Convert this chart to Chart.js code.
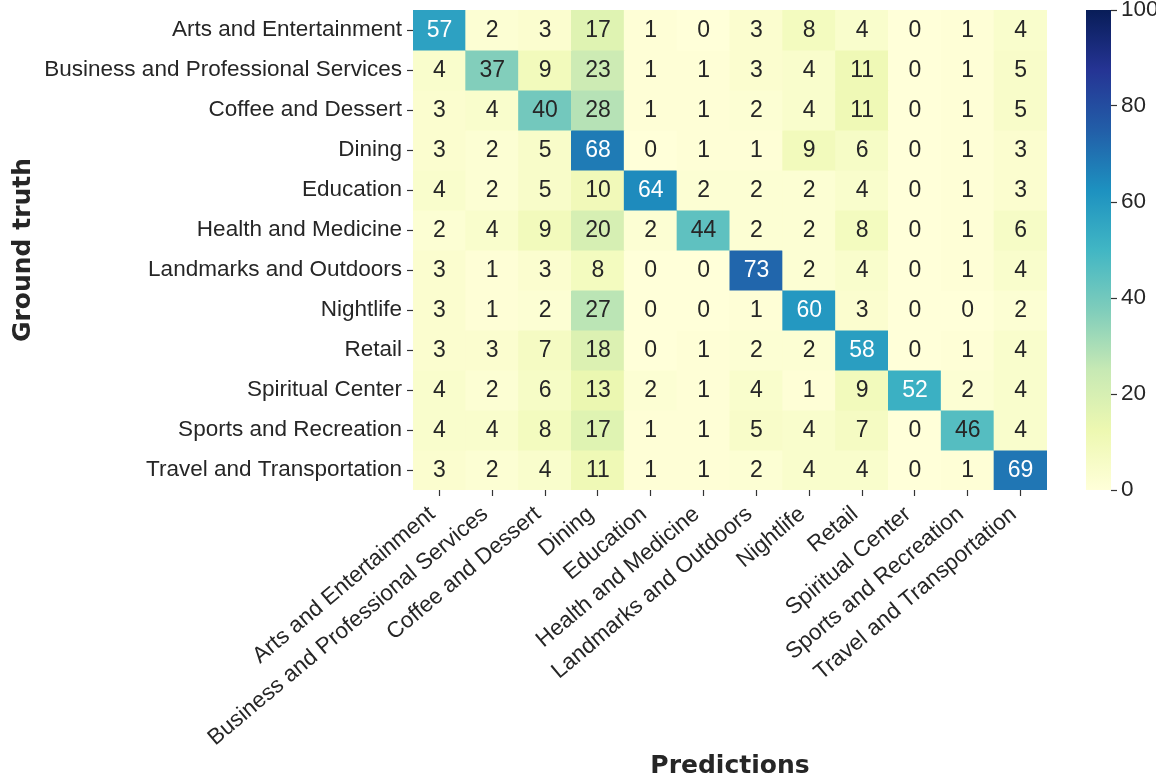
<!DOCTYPE html>
<html lang="en">

<head>
    <meta charset="UTF-8">
    <title>Confusion matrix</title>
    <script src="https://cdn.jsdelivr.net/npm/chart.js"></script>
    <style>
        body { margin: 0; background: #fff; }
        #main { position: absolute; left: 0; top: 0; width: 1166px; height: 782px; }
        #bar { position: absolute; left: 1076px; top: 0; width: 90px; height: 782px; }
    </style>
</head>

<body>
    <div id="main"><canvas id="heatmap"></canvas></div>
    <div id="bar"><canvas id="colorbar"></canvas></div>

    <script>
        // categories (same order on both axes)
        const categories = ['Arts and Entertainment', 'Business and Professional Services', 'Coffee and Dessert',
            'Dining', 'Education', 'Health and Medicine', 'Landmarks and Outdoors', 'Nightlife', 'Retail',
            'Spiritual Center', 'Sports and Recreation', 'Travel and Transportation'];

        // one row per ground-truth class, columns = predictions
        const artsEntertainment = [57, 2, 3, 17, 1, 0, 3, 8, 4, 0, 1, 4];
        const businessServices = [4, 37, 9, 23, 1, 1, 3, 4, 11, 0, 1, 5];
        const coffeeDessert = [3, 4, 40, 28, 1, 1, 2, 4, 11, 0, 1, 5];
        const dining = [3, 2, 5, 68, 0, 1, 1, 9, 6, 0, 1, 3];
        const education = [4, 2, 5, 10, 64, 2, 2, 2, 4, 0, 1, 3];
        const healthMedicine = [2, 4, 9, 20, 2, 44, 2, 2, 8, 0, 1, 6];
        const landmarksOutdoors = [3, 1, 3, 8, 0, 0, 73, 2, 4, 0, 1, 4];
        const nightlife = [3, 1, 2, 27, 0, 0, 1, 60, 3, 0, 0, 2];
        const retail = [3, 3, 7, 18, 0, 1, 2, 2, 58, 0, 1, 4];
        const spiritualCenter = [4, 2, 6, 13, 2, 1, 4, 1, 9, 52, 2, 4];
        const sportsRecreation = [4, 4, 8, 17, 1, 1, 5, 4, 7, 0, 46, 4];
        const travelTransport = [3, 2, 4, 11, 1, 1, 2, 4, 4, 0, 1, 69];

        const matrix = [artsEntertainment, businessServices, coffeeDessert, dining, education, healthMedicine,
            landmarksOutdoors, nightlife, retail, spiritualCenter, sportsRecreation, travelTransport];

        const colorbarTicks = [0, 20, 40, 60, 80, 100];

        // YlGnBu colormap stops
        const ylgnbu = ['#ffffd9', '#edf8b1', '#c7e9b4', '#7fcdbb', '#41b6c4', '#1d91c0', '#225ea8', '#253494', '#081d58'];

        function hexRgb(h) {
            return [parseInt(h.substr(1, 2), 16), parseInt(h.substr(3, 2), 16), parseInt(h.substr(5, 2), 16)];
        }

        function cmap(v) {
            var t = Math.max(0, Math.min(1, v / 100)) * (ylgnbu.length - 1);
            var i = Math.min(Math.floor(t), ylgnbu.length - 2);
            var f = t - i;
            var a = hexRgb(ylgnbu[i]), b = hexRgb(ylgnbu[i + 1]);
            return [0, 1, 2].map(k => Math.round(a[k] + (b[k] - a[k]) * f));
        }

        function rgbStr(c) { return 'rgb(' + c.join(',') + ')'; }

        // seaborn picks text colour from the luminance of the cell
        function textColor(v) {
            var lin = cmap(v).map(c => { c /= 255; return c <= 0.03928 ? c / 12.92 : Math.pow((c + 0.055) / 1.055, 2.4); });
            var lum = 0.2126 * lin[0] + 0.7152 * lin[1] + 0.0722 * lin[2];
            return lum > 0.408 ? '#262626' : '#ffffff';
        }

        const fontFamily = "'Liberation Sans', Arial, sans-serif";
        const xTickFont = { family: fontFamily, size: 22.5 };
        // small lineHeight only so the vertical axes don't push the chart area down
        const yTickFont = { family: fontFamily, size: 22.5, lineHeight: 0.4 };
        const titleFont = { family: "'DejaVu Sans', sans-serif", size: 25, weight: 'bold' };

        const cellLabels = {
            id: 'cellLabels',
            afterDatasetsDraw(chart) {
                const ctx = chart.ctx;
                ctx.save();
                ctx.font = "23px " + fontFamily;
                ctx.textAlign = 'center';
                ctx.textBaseline = 'middle';
                chart.data.datasets.forEach((ds, r) => {
                    chart.getDatasetMeta(r).data.forEach((el, c) => {
                        const p = el.getCenterPoint();
                        const v = matrix[r][c];
                        ctx.fillStyle = textColor(v);
                        ctx.fillText(String(v), p.x, p.y + 1);
                    });
                });
                ctx.restore();
            }
        };

        // each ground-truth row is a dataset of floating bars [row, row+1]
        const datasets = matrix.map((row, r) => ({
            label: categories[r],
            data: row.map(() => [r, r + 1]),
            backgroundColor: row.map(v => rgbStr(cmap(v))),
            borderWidth: 0,
            inflateAmount: 0.5,
            barPercentage: 1,
            categoryPercentage: 1,
            grouped: false
        }));

        new Chart(document.getElementById('heatmap'), {
            type: 'bar',
            data: { labels: categories, datasets: datasets },
            options: {
                responsive: true,
                maintainAspectRatio: false,
                animation: false,
                layout: { padding: { left: 4, top: 10, right: 119, bottom: 0 } },
                plugins: { legend: { display: false }, tooltip: { enabled: false } },
                scales: {
                    x: {
                        offset: true,
                        border: { display: false },
                        grid: { offset: false, drawOnChartArea: false, tickLength: 6, tickColor: '#333', tickWidth: 1.2 },
                        ticks: {
                            font: xTickFont, color: '#262626', minRotation: 40, maxRotation: 40,
                            padding: 5, labelOffset: -7, autoSkip: false
                        },
                        title: { display: true, text: 'Predictions', font: titleFont, color: '#262626', padding: { top: 4, bottom: 1 } },
                        afterFit(scale) { scale.height = 292; }
                    },
                    y: {
                        type: 'linear',
                        min: 0,
                        max: 12,
                        reverse: true,
                        border: { display: false },
                        grid: { drawOnChartArea: false, tickLength: 6, tickColor: '#333', tickWidth: 1.2 },
                        afterBuildTicks(scale) {
                            scale.ticks = categories.map((_, i) => ({ value: i + 0.5 }));
                        },
                        ticks: {
                            font: yTickFont, color: '#262626', padding: 5,
                            callback: (v, i) => categories[i]
                        },
                        title: { display: true, text: 'Ground truth', font: titleFont, color: '#262626', padding: { top: 4, bottom: 4 } },
                        afterFit(scale) { scale.width = 409; }
                    }
                }
            },
            plugins: [cellLabels]
        });

        // colour bar: gradient painted over the chart area of a second chart
        const gradientBar = {
            id: 'gradientBar',
            beforeDatasetsDraw(chart) {
                const a = chart.chartArea, ctx = chart.ctx;
                const g = ctx.createLinearGradient(0, a.bottom, 0, a.top);
                ylgnbu.forEach((c, i) => g.addColorStop(i / (ylgnbu.length - 1), c));
                ctx.save();
                ctx.fillStyle = g;
                ctx.fillRect(a.left, a.top, a.right - a.left, a.bottom - a.top);
                ctx.restore();
            }
        };

        new Chart(document.getElementById('colorbar'), {
            type: 'scatter',
            data: { datasets: [{ data: [] }] },
            options: {
                responsive: true,
                maintainAspectRatio: false,
                animation: false,
                layout: { padding: { left: 10, top: 10, right: 10, bottom: 292 } },
                plugins: { legend: { display: false }, tooltip: { enabled: false } },
                scales: {
                    x: { display: false },
                    y: {
                        position: 'right',
                        min: 0,
                        max: 100,
                        border: { display: false },
                        grid: { drawOnChartArea: false, tickLength: 6, tickColor: '#333', tickWidth: 1.2 },
                        afterBuildTicks(scale) {
                            scale.ticks = colorbarTicks.map(v => ({ value: v }));
                        },
                        ticks: { font: yTickFont, color: '#262626', padding: 4 },
                        afterFit(scale) { scale.width = 45; }
                    }
                }
            },
            plugins: [gradientBar]
        });
    </script>

</body>

</html>
